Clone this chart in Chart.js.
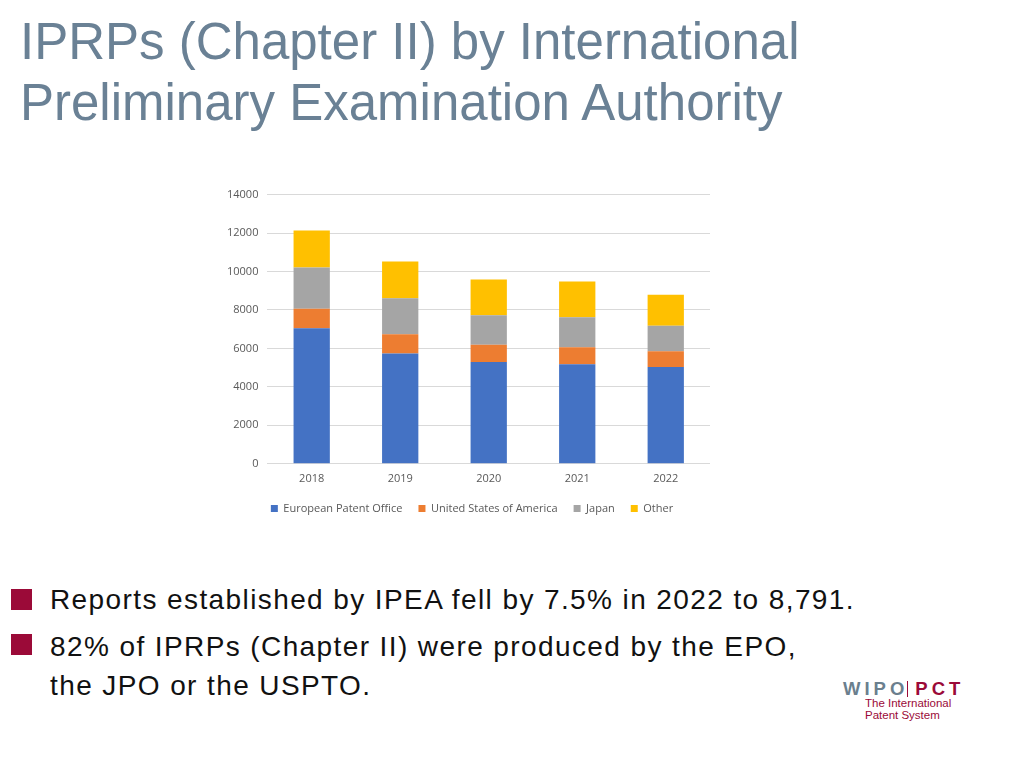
<!DOCTYPE html>
<html>
<head>
<meta charset="utf-8">
<script src="https://cdn.jsdelivr.net/npm/chart.js@4"></script>
<style>
  html, body { margin:0; padding:0; background:#fff; width:1024px; height:768px; overflow:hidden; font-family:"Liberation Sans", Arial, sans-serif; }
  #title { position:absolute; left:20px; top:11px; font-size:51px; line-height:61px; color:#6a8195; margin:0; font-weight:normal; white-space:nowrap; }
  #chartbox { position:absolute; left:205px; top:179px; width:520px; height:351px; }
  .bullet { position:absolute; left:50px; font-size:28px; line-height:39px; color:#111; letter-spacing:1.4px; white-space:nowrap; }
  .sq { position:absolute; left:11px; width:21px; height:21px; background:#9b0a38; }
  #logo { position:absolute; left:843px; top:678px; }
  #logo .top { font-size:18.5px; font-weight:bold; letter-spacing:4px; color:#6b7f8e; white-space:nowrap; }
  #logo .top .pct { color:#9b0a38; }
  #logo .top .sep { display:inline-block; width:1px; height:16px; background:#9b0a38; vertical-align:-2px; margin:0 7px 0 -1px; }
  #logo .sub { position:absolute; left:22px; top:19px; font-size:11.5px; line-height:12px; color:#9b0a38; white-space:nowrap; }
</style>
</head>
<body>
<h1 id="title">IPRPs (Chapter II) by International<br>Preliminary Examination Authority</h1>
<div id="chartbox"><canvas id="c"></canvas></div>
<div class="sq" style="top:589px"></div>
<div class="bullet" style="top:580px">Reports established by IPEA fell by 7.5% in 2022 to 8,791.</div>
<div class="sq" style="top:634px"></div>
<div class="bullet" style="top:627px">82% of IPRPs (Chapter II) were produced by the EPO,<br>the JPO or the USPTO.</div>
<div id="logo"><div class="top">WIPO<span class="sep"></span><span class="pct">PCT</span></div><div class="sub">The International<br>Patent System</div></div>
<script>
const years = ["2018", "2019", "2020", "2021", "2022"];
const epo = [7050, 5740, 5300, 5180, 5040];
const usa = [1010, 1000, 885, 885, 815];
const japan = [2150, 1870, 1540, 1560, 1320];
const other = [1920, 1910, 1855, 1855, 1616];
const seriesNames = ["European Patent Office", "United States of America", "Japan", "Other"];
const seriesColors = ["#4472c4", "#ed7d31", "#a5a5a5", "#ffc000"];
const yTicks = [0, 2000, 4000, 6000, 8000, 10000, 12000, 14000];

const values = [epo, usa, japan, other];
const legendShift = {
  id: 'legendShift',
  afterLayout(chart) {
    const lg = chart.legend;
    if (!lg) return;
    const dy = 6, dx = 8;
    lg.top -= dy; lg.bottom -= dy; lg.left += dx; lg.right += dx;
    if (lg.legendHitBoxes) lg.legendHitBoxes.forEach(h => { h.top -= dy; h.left += dx; });
  }
};
new Chart(document.getElementById('c'), {
  type: 'bar',
  data: {
    labels: years,
    datasets: values.map((v, i) => ({
      label: seriesNames[i], data: v, backgroundColor: seriesColors[i],
      borderWidth: 0, categoryPercentage: 1, barPercentage: 0.41
    }))
  },
  plugins: [legendShift],
  options: {
    responsive: true, maintainAspectRatio: false, animation: false,
    layout: { padding: { left: 13, right: 15, top: 15, bottom: 0 } },
    plugins: {
      tooltip: { enabled: false },
      legend: { position: 'bottom', labels: { boxWidth: 7, boxHeight: 7, color: '#595959', font: { family: 'Open Sans', size: 11 }, padding: 16 } }
    },
    scales: {
      x: { stacked: true, grid: { display: false, drawTicks: false }, border: { display: false },
           ticks: { color: '#595959', font: { family: 'Open Sans', size: 11 }, padding: 8 } },
      y: { stacked: true, min: 0, max: 14000, afterBuildTicks: a => { a.ticks = yTicks.map(v => ({ value: v })); },
           grid: { color: '#d9d9d9', drawTicks: false }, border: { display: false },
           ticks: { color: '#595959', font: { family: 'Open Sans', size: 11 }, padding: 9, callback: v => String(v) } }
    }
  }
});
</script>
</body>
</html>
